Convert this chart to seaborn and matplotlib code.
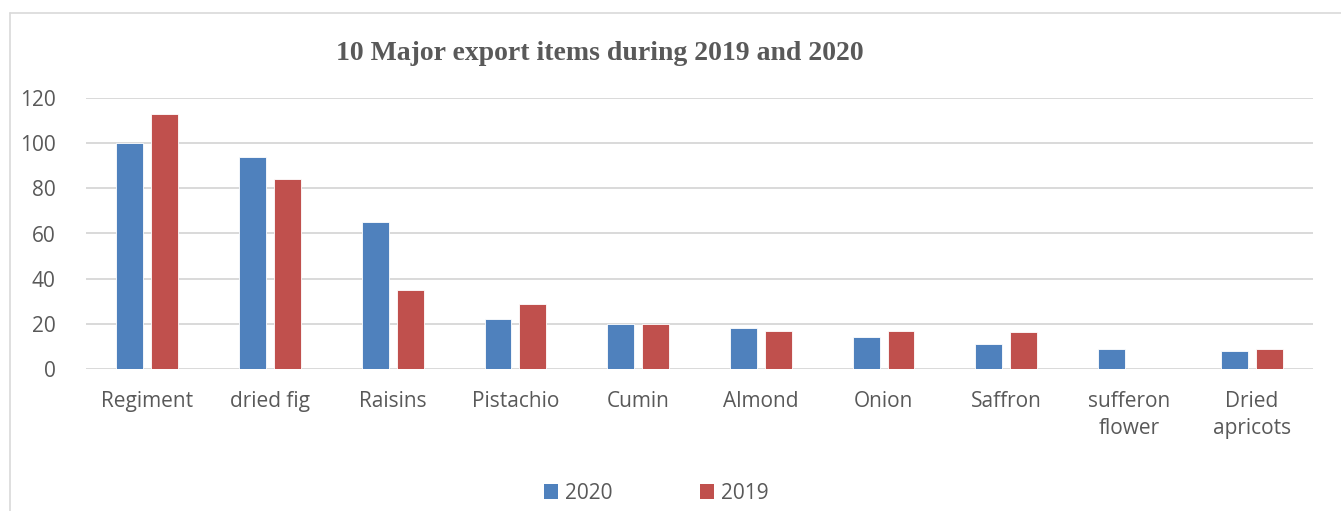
import pandas as pd
import seaborn as sns
import matplotlib.pyplot as plt
from matplotlib.lines import Line2D
from matplotlib.patches import Patch

# Chart data
items = ['Regiment', 'dried fig', 'Raisins', 'Pistachio', 'Cumin', 'Almond',
         'Onion', 'Saffron', 'sufferon\nflower', 'Dried\napricots']
values_2020 = [100, 94, 65, 22, 20, 18, 14, 11, 9, 8]
values_2019 = [113, 84, 35, 29, 20, 17, 17, 16.5, 0, 9]
years = ['2020', '2019']
y_ticks = [0, 20, 40, 60, 80, 100, 120]

df = pd.DataFrame({
    'item': items * 2,
    'year': [years[0]] * len(items) + [years[1]] * len(items),
    'value': values_2020 + values_2019,
})

colors = {'2020': '#4F81BD', '2019': '#C0504D'}
grey = '#595959'

sns.set_style('white')
plt.rcParams['font.family'] = ['Open Sans', 'DejaVu Sans']

fig = plt.figure(figsize=(13.41, 5.11), dpi=100)
ax = fig.add_axes([86 / 1341, 1 - 369 / 511, (1313 - 86) / 1341, (369 - 98) / 511])

sns.barplot(data=df, x='item', y='value', hue='year', palette=colors,
            saturation=1, width=0.57, gap=0.23, ax=ax, legend=False, zorder=3,
            edgecolor='white', linewidth=0.6)

ax.set_ylim(0, 120)
ax.set_xlim(-0.5, len(items) - 0.5)
ax.set_yticks(y_ticks)
ax.yaxis.grid(True, color='#D9D9D9', linewidth=1.4, zorder=0)
ax.set_axisbelow(True)
for s in ax.spines.values():
    s.set_visible(False)
ax.tick_params(axis='both', length=0, labelsize=15, labelcolor=grey)
ax.tick_params(axis='x', pad=16)
ax.tick_params(axis='y', pad=22)
for lbl in ax.get_xticklabels():
    lbl.set_linespacing(1.35)
ax.set_xlabel('')
ax.set_ylabel('')

# Title
fig.text(600 / 1341, 1 - 53 / 511, '10 Major export items during 2019 and 2020',
         ha='center', va='center', fontsize=20, fontweight='bold',
         family='Liberation Serif', color=grey)

# Legend
handles = [Patch(facecolor=colors[y], edgecolor='none', label=y) for y in years]
fig.legend(handles=handles, loc='center', bbox_to_anchor=(656 / 1341, 1 - 493 / 511),
           ncol=2, frameon=False, fontsize=15, labelcolor=grey,
           handlelength=0.7, handleheight=0.7, handletextpad=0.3, columnspacing=4.2)

# Outer chart frame (left and top edges visible)
fig.add_artist(Line2D([10 / 1341, 10 / 1341], [0, 1 - 13 / 511],
                      color='#D9D9D9', linewidth=1.2, transform=fig.transFigure))
fig.add_artist(Line2D([10 / 1341, 1], [1 - 13 / 511, 1 - 13 / 511],
                      color='#D9D9D9', linewidth=1.2, transform=fig.transFigure))

plt.savefig('out.png', dpi=100)
